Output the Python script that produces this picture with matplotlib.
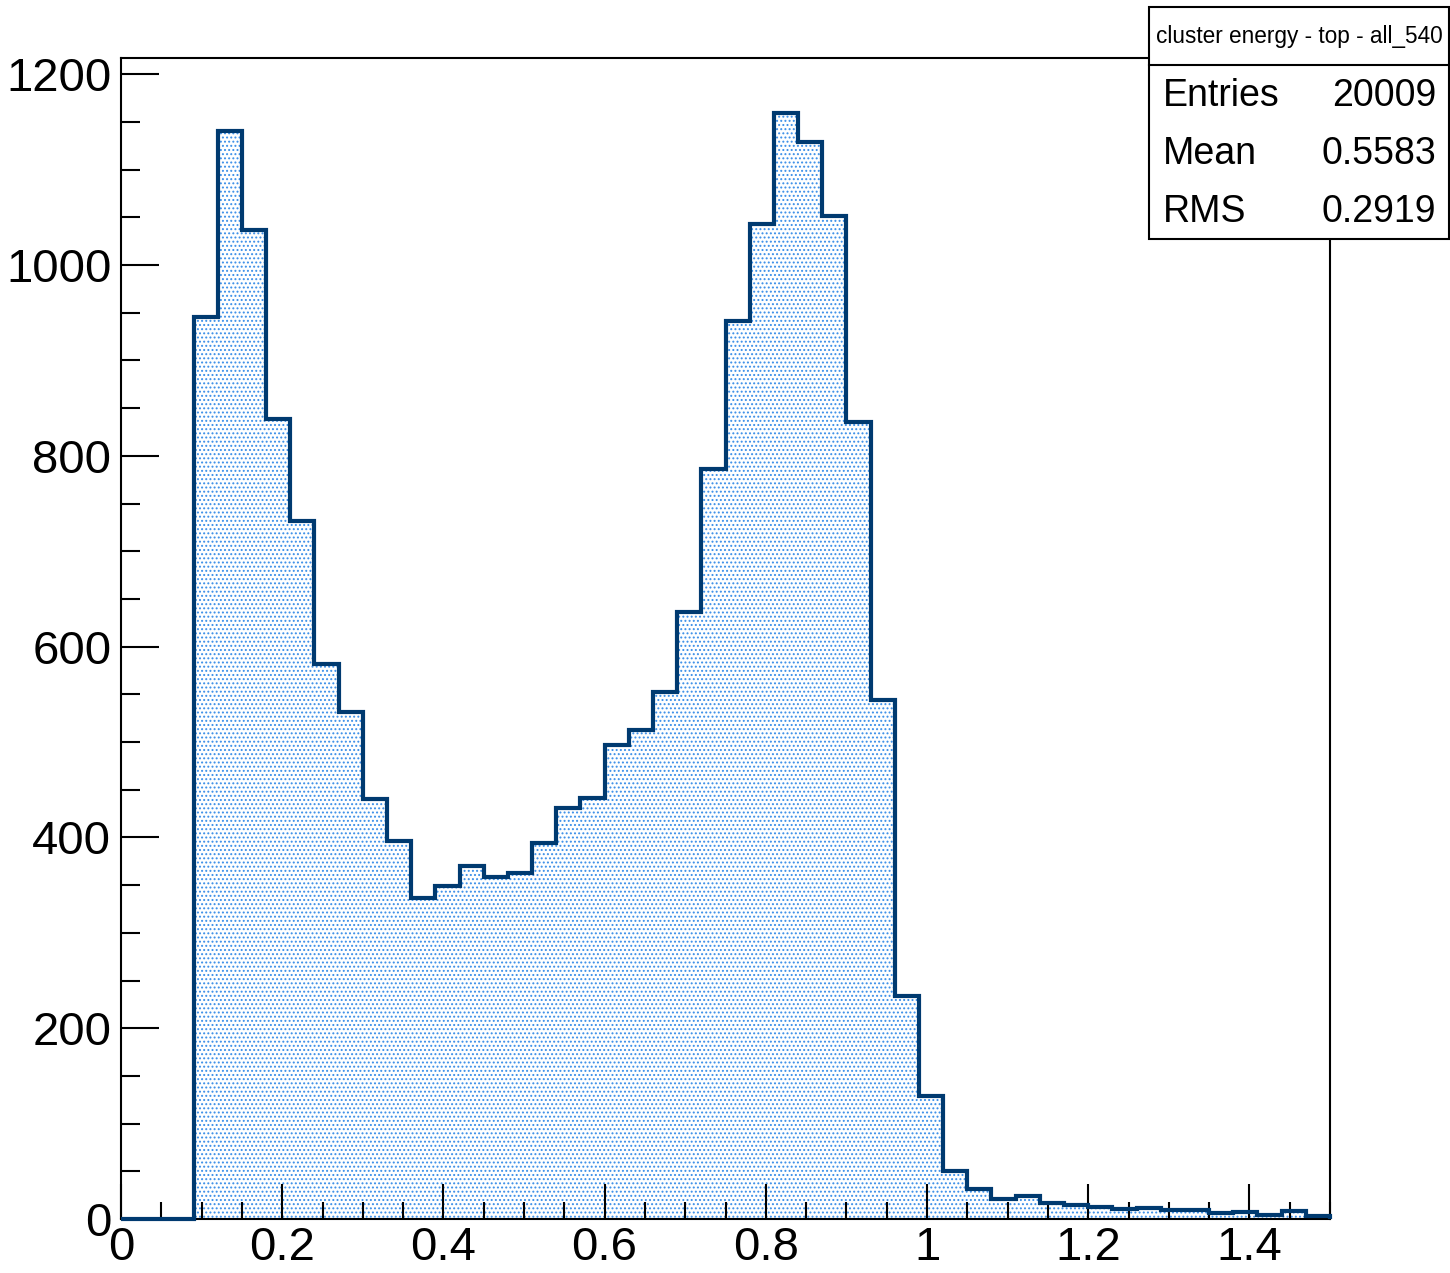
import matplotlib
matplotlib.use("Agg")
import matplotlib.pyplot as plt
import numpy as np
from matplotlib.ticker import MultipleLocator, FixedLocator
from matplotlib.patches import Rectangle
from matplotlib.lines import Line2D

plt.rcParams['font.family'] = ['Liberation Sans', 'DejaVu Sans']
plt.rcParams['hatch.linewidth'] = 0.9

# ---- data ----
bin_edges = np.linspace(0.0, 1.5, 51)
counts = [0, 0, 0,
          945, 1141, 1037, 839, 732, 582, 531, 440, 396, 336,
          349, 370, 358, 363, 394, 431, 441, 497, 513, 552, 636,
          786, 941, 1043, 1159, 1129, 1051, 835, 544, 234, 129,
          50, 31, 21, 24, 17, 15, 13, 11, 12, 9, 9, 6, 7, 4, 8, 3]
x_ticks = [0, 0.2, 0.4, 0.6, 0.8, 1.0, 1.2, 1.4]
x_tick_labels = ["0", "0.2", "0.4", "0.6", "0.8", "1", "1.2", "1.4"]
y_ticks = [0, 200, 400, 600, 800, 1000, 1200]
y_tick_labels = ["0", "200", "400", "600", "800", "1000", "1200"]
stats_title = "cluster energy - top - all_540"
stats_names = ["Entries", "Mean", "RMS"]
stats_values = ["20009", "0.5583", "0.2919"]

W, H = 1450, 1273
fig = plt.figure(figsize=(W / 100, H / 100), dpi=100)
L, R, T, B = 121, 1330, 58, 1219
ax = fig.add_axes([L / W, 1 - B / H, (R - L) / W, (B - T) / H])

line_col = '#003a70'
dot_col = '#3a8ee8'

ax.stairs(counts, bin_edges, fill=True, facecolor='none', edgecolor=dot_col,
          hatch='....', linewidth=0, zorder=1)
ax.stairs(counts, bin_edges, color=line_col, linewidth=3.0, zorder=3,
          clip_on=False)

ax.set_xlim(0, 1.5)
ax.set_ylim(0, 1217)

for s in ax.spines.values():
    s.set_visible(True)
    s.set_linewidth(1.5)
    s.set_color('black')

ax.xaxis.set_major_locator(FixedLocator(x_ticks))
ax.set_xticklabels(x_tick_labels)
ax.xaxis.set_minor_locator(MultipleLocator(0.05))
ax.yaxis.set_major_locator(FixedLocator(y_ticks))
ax.set_yticklabels(y_tick_labels)
ax.yaxis.set_minor_locator(MultipleLocator(50))

ax.tick_params(axis='both', which='both', direction='in', top=False, right=False,
               width=1.5, colors='black')
ax.tick_params(axis='x', which='major', length=25, labelsize=34, pad=5)
ax.tick_params(axis='x', which='minor', length=12.5)
ax.tick_params(axis='y', which='major', length=27, labelsize=34, pad=7)
ax.tick_params(axis='y', which='minor', length=13.5)

# ---- stats box ----
def fx(x):
    return x / W

def fy(y):
    return 1 - y / H

bx0, bx1, by0, by1, bdiv = 1149, 1449, 7, 239, 65
fig.patches.append(Rectangle((fx(bx0), fy(by1)), fx(bx1) - fx(bx0), fy(by0) - fy(by1),
                             transform=fig.transFigure, facecolor='white',
                             edgecolor='black', linewidth=1.5, zorder=10))
fig.lines.append(Line2D([fx(bx0), fx(bx1)], [fy(bdiv), fy(bdiv)],
                        transform=fig.transFigure, color='black', linewidth=1.5,
                        zorder=11))
fig.text(fx((bx0 + bx1) / 2), fy(36), stats_title, ha='center', va='center',
         fontsize=16.3, zorder=12)
row_y = [96, 154, 212]
for name, val, yy in zip(stats_names, stats_values, row_y):
    fig.text(fx(1163), fy(yy), name, ha='left', va='center', fontsize=27, zorder=12)
    fig.text(fx(1436), fy(yy), val, ha='right', va='center', fontsize=27, zorder=12)

fig.savefig('out.png', dpi=100, facecolor='white')
